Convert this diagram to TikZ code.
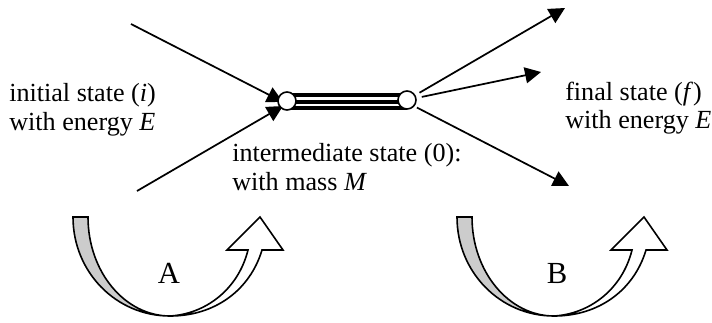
\documentclass[tikz,border=0pt]{standalone}
\usepackage{fontspec}
\setmainfont{Liberation Serif}
\usepackage{tikz}
\usetikzlibrary{positioning,arrows.meta,backgrounds}
\tikzset{
  vertex/.style={circle,draw,line width=1.2pt,fill=white,inner sep=0pt,minimum size=13.5pt},
  line/.style={-{Triangle[length=12pt,width=12pt]},line width=1.3pt},
  rail/.style={line width=2.6pt},
  caption/.style={align=left,anchor=west,font=\fontsize{19.6}{21.5}\selectfont,inner sep=0pt},
  letter/.style={font=\fontsize{23}{25}\selectfont,inner sep=0pt}
}
\newcommand{\bow}[1]{%
\begin{scope}[xshift=#1*0.75pt,line width=1.2pt,line join=miter]
\draw[fill=black!20] (73,217) -- (88,217)
  .. controls (88,272) and (125,316) .. (170,316)
  .. controls (116,316) and (73,272) .. (73,217) -- cycle;
\draw[fill=white] (170,316)
  .. controls (205,314) and (238,290) .. (248,250) -- (227,250) -- (260,217)
  -- (283,250) -- (262,250) .. controls (250,290) and (215,316) .. (170,316) -- cycle;
\end{scope}}
\begin{document}
\begin{tikzpicture}[x=0.75pt,y=-0.75pt]
\useasboundingbox (0,0) rectangle (712,322);

\coordinate (inA) at (131,24);
\coordinate (inB) at (137,191);
\coordinate (outA) at (565,8);
\coordinate (outB) at (541,72);
\coordinate (outC) at (569,186);

\node[vertex] (left) at (287,101) {};
\node[vertex] (right) at (407,100) {};

% propagator and the arrows run behind the circles
\begin{scope}[on background layer]
\draw[rail] ([shift={(0,-6)}]left.center) -- ([shift={(0,-5)}]right.center);
\draw[rail] ([shift={(0,1)}]left.center) -- ([shift={(0,2)}]right.center);
\draw[rail] ([shift={(0,7)}]left.center) -- ([shift={(0,8)}]right.center);
\draw[line] (inA) -- ([shift={(-4,1)}]left.center);
\draw[line] (inB) -- ([shift={(-4,5)}]left.center);
\end{scope}
\draw[line,shorten <=3.5pt] (right) -- (outA);
\draw[line,shorten <=4pt] (right) -- (outB);
\draw[line,shorten <=2pt] (right.-40) -- (outC);

\node[caption] (initial) at (9,110) {initial state (\emph{i})\\with energy \emph{E}};
\node[caption] (final) at (565,108) {final state (\emph{f})\\with energy \emph{E}};
\node[caption] (inter) at (232,167) {intermediate state (0):\\with mass \emph{M}};

\bow{0}
\bow{384}
\node[letter] (A) at (169,273) {A};
\node[letter] (B) at (557,273) {B};

\end{tikzpicture}
\end{document}
